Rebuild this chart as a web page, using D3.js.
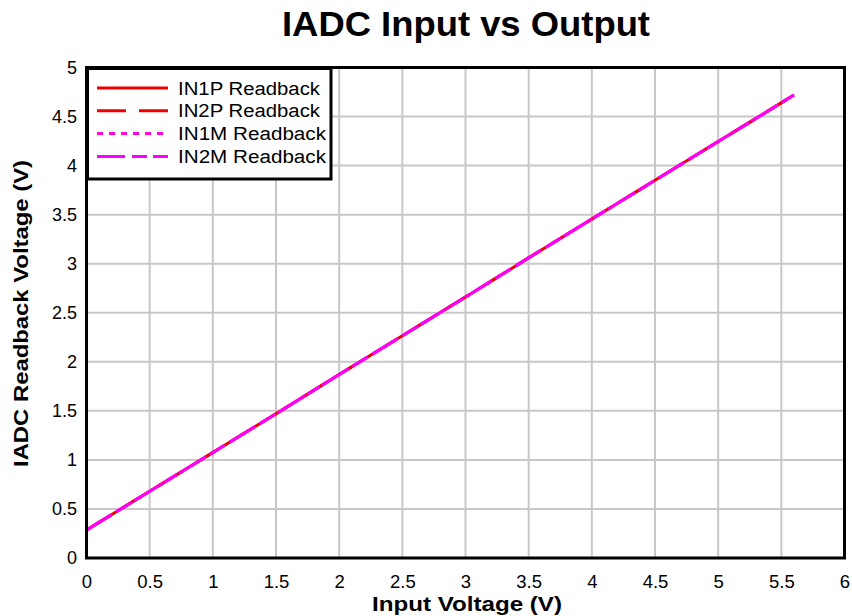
<!DOCTYPE html>
<html><head><meta charset="utf-8">
<script src="https://cdn.jsdelivr.net/npm/d3@7"></script>
<style>body{margin:0;background:#fff}svg{display:block}text{font-family:"Liberation Sans",Arial,sans-serif}</style>
</head><body>
<svg id="c" width="852" height="616"></svg>
<script>
const inputV = [0, 0.5, 1, 1.5, 2, 2.5, 3, 3.5, 4, 4.5, 5, 5.5, 5.6];
const in1p = [0.285, 0.68, 1.075, 1.47, 1.87, 2.265, 2.66, 3.06, 3.455, 3.85, 4.245, 4.64, 4.72];
const in2p = [0.285, 0.68, 1.075, 1.47, 1.87, 2.265, 2.66, 3.06, 3.455, 3.85, 4.245, 4.64, 4.72];
const in1m = [0.285, 0.68, 1.075, 1.47, 1.87, 2.265, 2.66, 3.06, 3.455, 3.85, 4.245, 4.64, 4.72];
const in2m = [0.285, 0.68, 1.075, 1.47, 1.87, 2.265, 2.66, 3.06, 3.455, 3.85, 4.245, 4.64, 4.72];
const seriesNames = ["IN1P Readback", "IN2P Readback", "IN1M Readback", "IN2M Readback"];
const xTicks = [0,0.5,1,1.5,2,2.5,3,3.5,4,4.5,5,5.5,6];
const yTicks = [0,0.5,1,1.5,2,2.5,3,3.5,4,4.5,5];

const series = [
  {name: seriesNames[0], vals: in1p, color: "#ee0000", dash: null},
  {name: seriesNames[1], vals: in2p, color: "#ee0000", dash: "29,13"},
  {name: seriesNames[2], vals: in1m, color: "#ff00dd", dash: "6,6"},
  {name: seriesNames[3], vals: in2m, color: "#ff00ff", dash: "28,7,15,6"}
];

const svg = d3.select("#c");
const L = 86.5, R = 844.5, T = 67.5, B = 558;
const x = d3.scaleLinear().domain([0,6]).range([L,R]);
const y = d3.scaleLinear().domain([0,5]).range([B,T]);

// grid
svg.append("g").selectAll("line").data(xTicks).join("line")
  .attr("x1", d=>x(d)).attr("x2", d=>x(d)).attr("y1", T).attr("y2", B)
  .attr("stroke", "#c8c8c8").attr("stroke-width", 2);
svg.append("g").selectAll("line").data(yTicks).join("line")
  .attr("y1", d=>y(d)).attr("y2", d=>y(d)).attr("x1", L).attr("x2", R)
  .attr("stroke", "#c8c8c8").attr("stroke-width", 2);

// lines
const line = d3.line().x(d=>x(d[0])).y(d=>y(d[1]));
series.forEach(s => {
  svg.append("path").datum(inputV.map((v,i)=>[v, s.vals[i]]))
    .attr("d", line).attr("fill","none").attr("stroke", s.color)
    .attr("stroke-width", 3).attr("stroke-dasharray", s.dash);
});

// border
svg.append("rect").attr("x", L).attr("y", T).attr("width", R-L).attr("height", B-T)
  .attr("fill","none").attr("stroke","#000").attr("stroke-width",3);

// axes tick labels
const xAxis = d3.axisBottom(x).tickValues(xTicks).tickSize(0).tickFormat(d3.format("~g"));
const gx = svg.append("g").attr("transform", `translate(0,${B})`).call(xAxis);
gx.select(".domain").remove();
gx.selectAll("text").attr("font-size", 18.5).attr("fill","#000").attr("y", 30).attr("dy", null)
  .attr("font-family","Liberation Sans, Arial, sans-serif");
const yAxis = d3.axisLeft(y).tickValues(yTicks).tickSize(0).tickPadding(9.5).tickFormat(d3.format("~g"));
const gy = svg.append("g").attr("transform", `translate(${L},0)`).call(yAxis);
gy.select(".domain").remove();
gy.selectAll("text").attr("font-size", 18).attr("fill","#000").attr("font-family","Liberation Sans, Arial, sans-serif");

// title & labels
svg.append("text").attr("x", 466).attr("y", 36).attr("text-anchor","middle")
  .attr("font-size", 35).attr("font-weight","bold")
  .attr("textLength", 368).attr("lengthAdjust","spacingAndGlyphs").text("IADC Input vs Output");
svg.append("text").attr("x", 467).attr("y", 611).attr("text-anchor","middle")
  .attr("font-size", 21).attr("font-weight","bold")
  .attr("textLength", 190).attr("lengthAdjust","spacingAndGlyphs").text("Input Voltage (V)");
svg.append("text").attr("transform", `translate(27.5,313.5) rotate(-90)`).attr("text-anchor","middle")
  .attr("font-size", 20.5).attr("font-weight","bold")
  .attr("textLength", 307).attr("lengthAdjust","spacingAndGlyphs").text("IADC Readback Voltage (V)");

// legend
const lg = svg.append("g");
lg.append("rect").attr("x", 87.5).attr("y", 68.5).attr("width", 243.5).attr("height", 110.5)
  .attr("fill","#fff").attr("stroke","#000").attr("stroke-width",3);
series.forEach((s,i) => {
  const yy = 88 + i*22.8;
  lg.append("line").attr("x1", 97).attr("x2", 168).attr("y1", yy).attr("y2", yy)
    .attr("stroke", s.color).attr("stroke-width", 3).attr("stroke-dasharray", s.dash);
  lg.append("text").attr("x", 178).attr("y", yy+6.5).attr("font-size", 18)
    .attr("textLength", s.name.includes("M") ? 148 : 142).attr("lengthAdjust","spacingAndGlyphs").text(s.name);
});
</script>
</body></html>
